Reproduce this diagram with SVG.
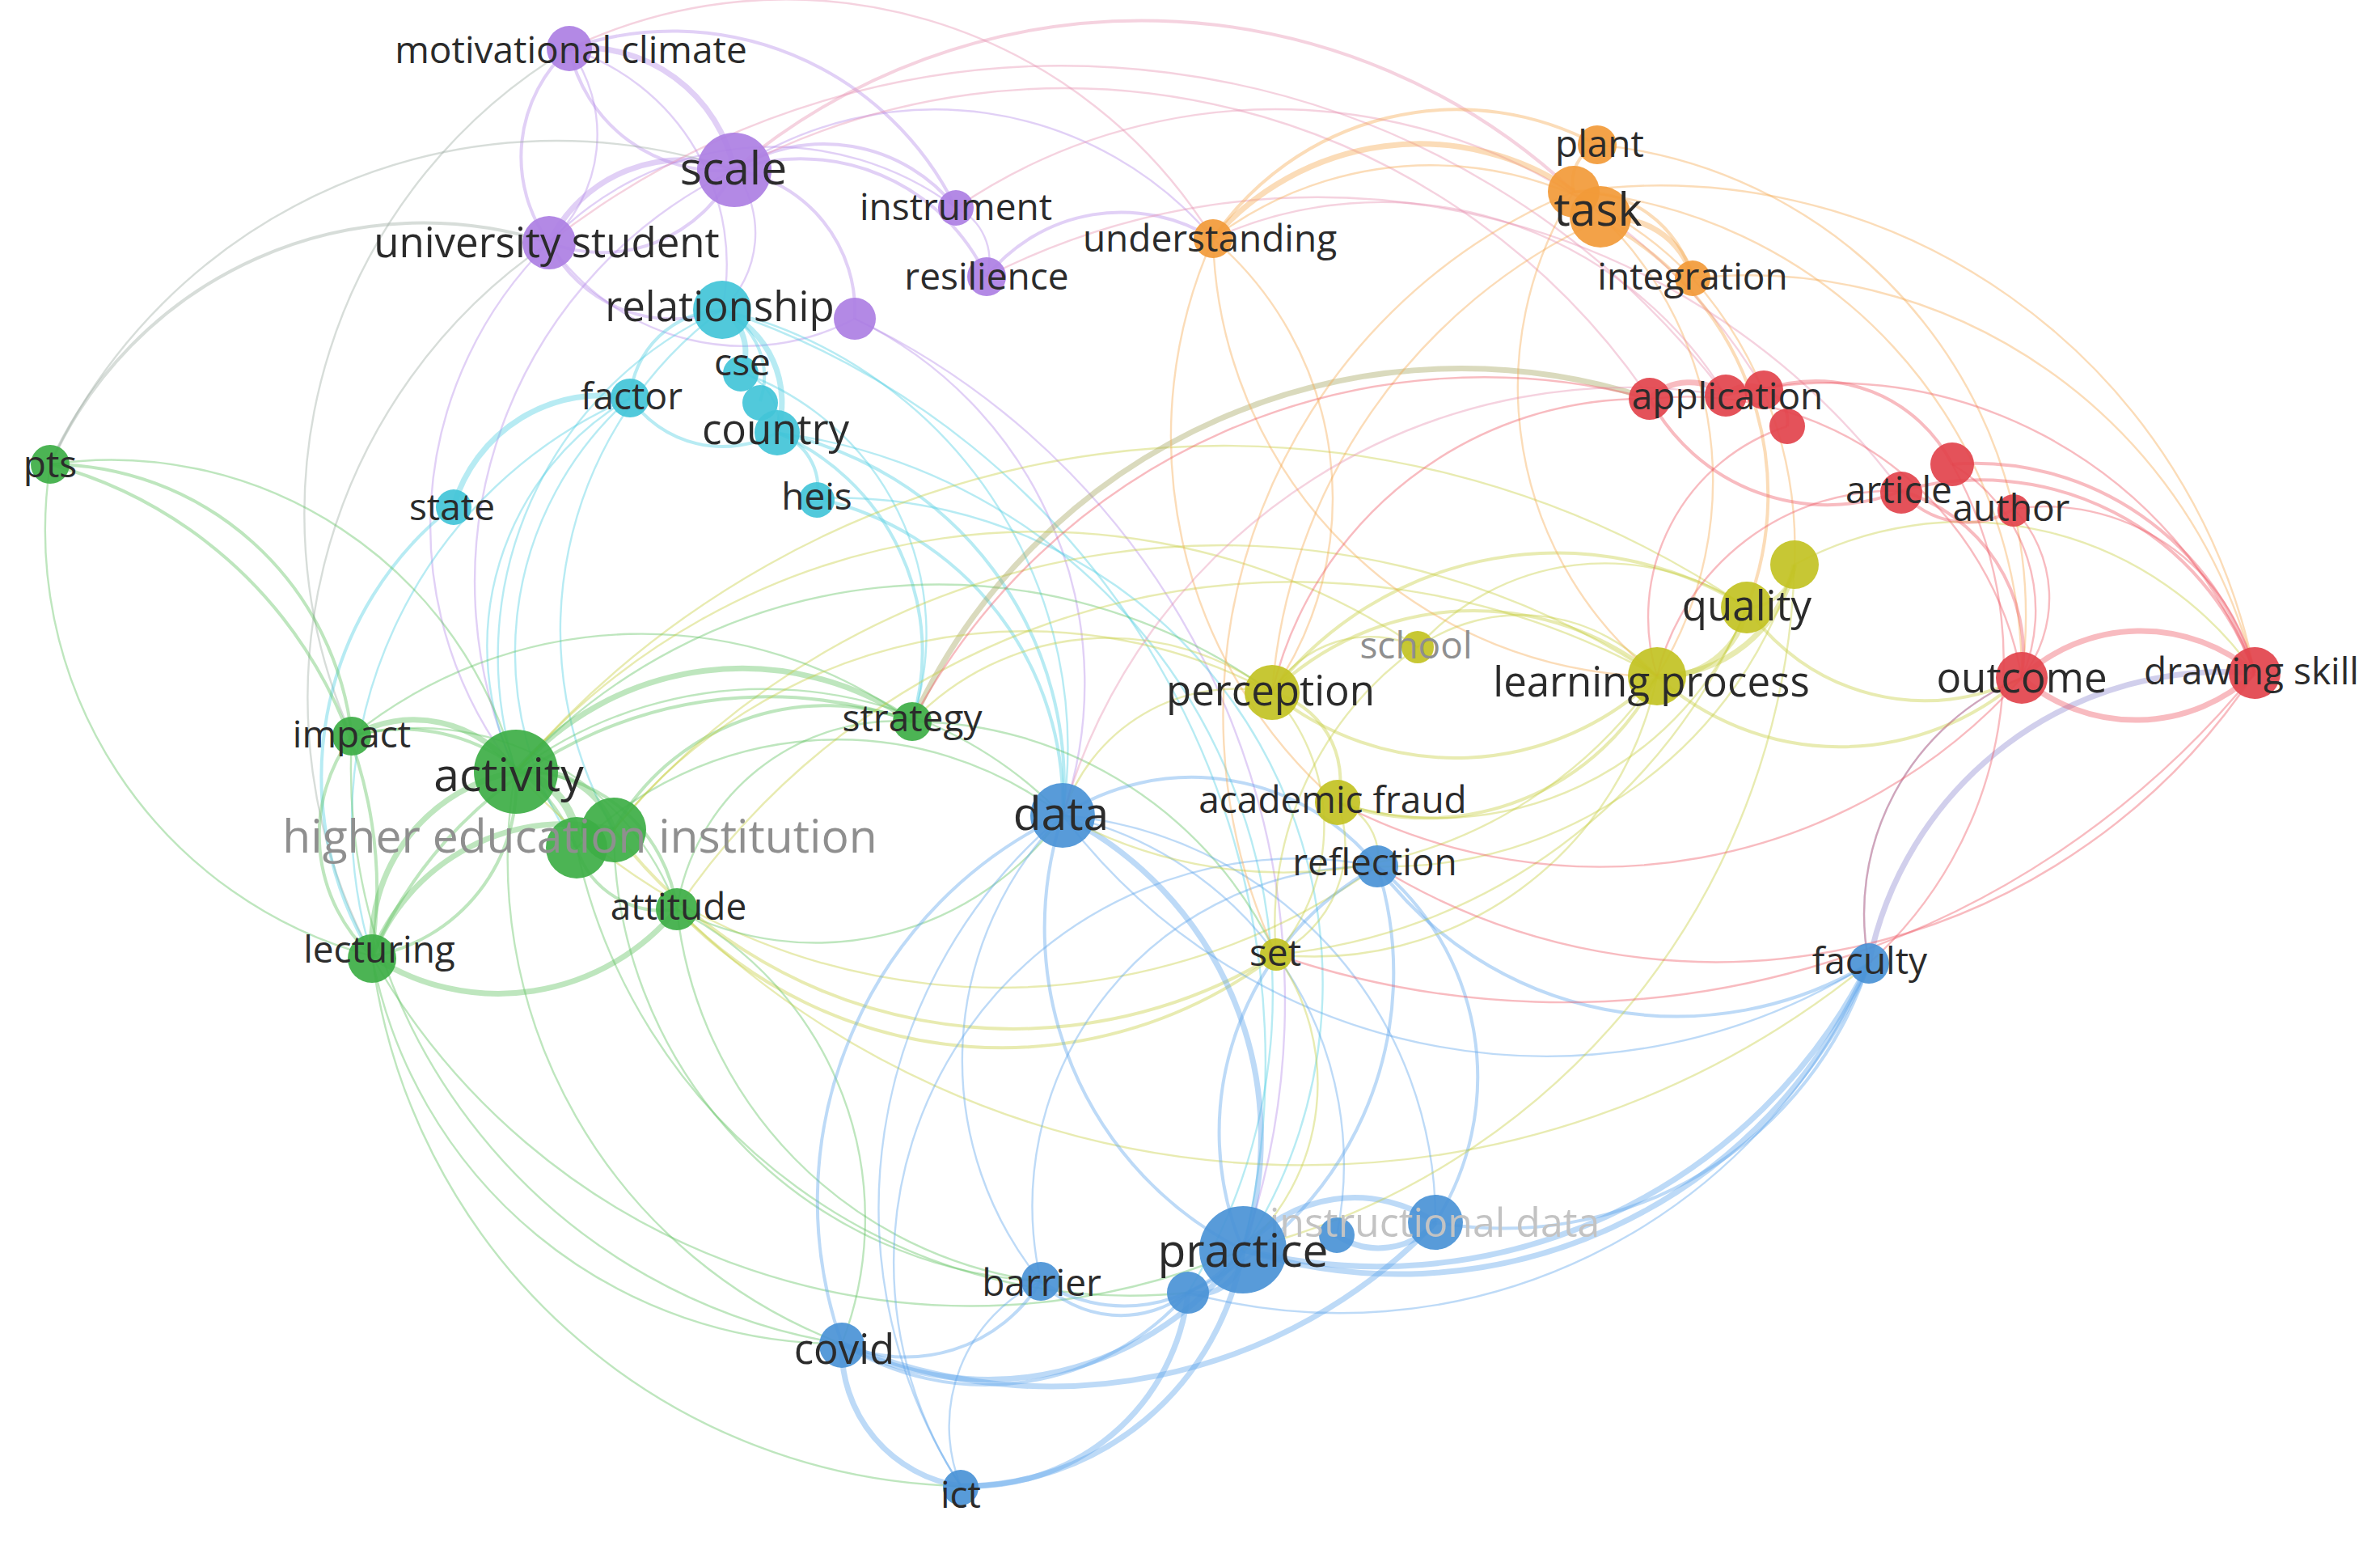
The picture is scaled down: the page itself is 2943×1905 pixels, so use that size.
<svg xmlns="http://www.w3.org/2000/svg" width="2943" height="1905" viewBox="0 0 2943 1905">
<style>
.e{fill:none;stroke-opacity:.4;stroke-width:2.4}
.w2{stroke-width:4}.w3{stroke-width:7}.w4{stroke-width:10}
.ep{stroke:#b48ae8}.ec{stroke:#4ccde0}.eg{stroke:#5cc05c}.eb{stroke:#5aa2ea}.ey{stroke:#c6cc3c}.eo{stroke:#f5a84e}.er{stroke:#ee5662}.ex{stroke:#9aa9a0}.eol{stroke:#a3a35a}.epb{stroke:#8c86d0}.epk{stroke:#e58fb0}
circle{fill-opacity:.92}
.np{fill:#ad7fe3}.nc{fill:#42c4d8}.ng{fill:#3dae45}.nb{fill:#4a93d6}.ny{fill:#c2c223}.no{fill:#f29a38}.nr{fill:#e2434c}
text{font-family:"Open Sans","Noto Sans","DejaVu Sans",sans-serif;fill:#2b2b2b;text-anchor:middle;dominant-baseline:central}
.s{font-size:46px}.m{font-size:51px}.l{font-size:57px}
.hei{font-size:57px;fill:#8f8f8f}.idl{font-size:50px;fill:#c3c3c3}.cv{font-size:51px}
.g1{fill:#8f8f8f}
</style>
<rect width="2943" height="1905" fill="#fff"/>
<g id="edges">
<path class="e ep w3" d="M704 60 A190 190 0 0 1 908 210"/>
<path class="e ep w2" d="M704 60 A190 190 0 0 0 908 210"/>
<path class="e ep w2" d="M704 60 A180 180 0 0 0 679 300"/>
<path class="e ep" d="M704 60 A180 180 0 0 1 679 300"/>
<path class="e ep" d="M704 60 A280 280 0 0 1 893 383"/>
<path class="e ep w2" d="M704 60 A390 390 0 0 1 1182 257"/>
<path class="e ep w3" d="M908 210 A182 182 0 0 0 679 300"/>
<path class="e ep w2" d="M908 210 A182 182 0 0 1 679 300"/>
<path class="e ep w2" d="M908 210 A208 208 0 0 1 1182 257"/>
<path class="e ep w2" d="M908 210 A254 254 0 0 1 1220 342"/>
<path class="e ep w2" d="M908 210 A177 177 0 0 1 1057 394"/>
<path class="e ep" d="M908 210 A130 130 0 0 1 893 383"/>
<path class="e ep w2" d="M679 300 A171 171 0 0 0 893 383"/>
<path class="e ep" d="M679 300 A292 292 0 0 0 1057 394"/>
<path class="e ep" d="M679 300 A380 380 0 0 1 1182 257"/>
<path class="e ex w2" d="M62 574 A506 506 0 0 1 679 300"/>
<path class="e ex" d="M62 574 A690 690 0 0 1 908 210"/>
<path class="e ex" d="M704 60 A670 670 0 0 0 435 910"/>
<path class="e ex" d="M679 300 A680 680 0 0 0 460 1182"/>
<path class="e ep" d="M908 210 A450 450 0 0 1 1500 295"/>
<path class="e epk w2" d="M908 210 A780 780 0 0 1 1946 237"/>
<path class="e epk" d="M704 60 A620 620 0 0 1 1500 295"/>
<path class="e ep" d="M1057 394 A500 500 0 0 1 1314 1008"/>
<path class="e ep" d="M1057 394 A935 935 0 0 1 1537 1545"/>
<path class="e ep w2" d="M1220 342 A214 214 0 0 1 1500 295"/>
<path class="e ep" d="M1182 257 A70 70 0 0 1 1220 342"/>
<path class="e ep" d="M679 300 A490 490 0 0 0 638 954"/>
<path class="e ep" d="M908 210 A565 565 0 0 0 638 954"/>
<path class="e epk" d="M908 210 A875 875 0 0 1 2040 493"/>
<path class="e epk" d="M679 300 A1030 1030 0 0 1 2134 489"/>
<path class="e epk" d="M1182 257 A700 700 0 0 1 2181 482"/>
<path class="e epk" d="M1220 342 A900 900 0 0 1 2351 607"/>
<path class="e ec w3" d="M893 383 A60 60 0 0 1 916 460"/>
<path class="e ec w2" d="M893 383 A92 92 0 0 1 940 496"/>
<path class="e ec w3" d="M893 383 A125 125 0 0 1 961 535"/>
<path class="e ec w2" d="M893 383 A118 118 0 0 0 779 492"/>
<path class="e ec" d="M916 460 A65 65 0 0 1 961 535"/>
<path class="e ec w2" d="M779 492 A140 140 0 0 0 961 535"/>
<path class="e ec w3" d="M561 625 A191 191 0 0 1 779 492"/>
<path class="e ec w2" d="M961 535 A71 71 0 0 1 1010 616"/>
<path class="e ec w2" d="M961 535 A442 442 0 0 1 1314 1008"/>
<path class="e ec" d="M893 383 A556 556 0 0 1 1314 1008"/>
<path class="e ec w2" d="M961 535 A295 295 0 0 1 1128 892"/>
<path class="e ec" d="M893 383 A469 469 0 0 0 638 954"/>
<path class="e ec" d="M779 492 A355 355 0 0 0 638 954"/>
<path class="e ec" d="M779 492 A570 570 0 0 0 460 1182"/>
<path class="e ec w2" d="M1010 616 A387 387 0 0 1 1314 1008"/>
<path class="e ec" d="M893 383 A493 493 0 0 0 759 1026"/>
<path class="e ec w2" d="M561 625 A425 425 0 0 0 460 1182"/>
<path class="e ec" d="M916 460 A343 343 0 0 1 1128 892"/>
<path class="e ec" d="M893 383 A980 980 0 0 1 1537 1545"/>
<path class="e ec" d="M779 492 A420 420 0 0 0 713 1048"/>
<path class="e ec" d="M961 535 A700 700 0 0 1 1469 1598"/>
<path class="e ec" d="M1010 616 A600 600 0 0 1 1537 1545"/>
<path class="e eg w2" d="M62 574 A376 376 0 0 1 435 910"/>
<path class="e eg w2" d="M62 574 A545 545 0 0 1 460 1182"/>
<path class="e eg" d="M62 574 A545 545 0 0 0 460 1182"/>
<path class="e eg" d="M62 574 A518 518 0 0 1 638 954"/>
<path class="e eg w3" d="M435 910 A156 156 0 0 1 638 954"/>
<path class="e eg w2" d="M435 910 A205 205 0 0 0 460 1182"/>
<path class="e eg w2" d="M435 910 A232 232 0 0 1 713 1048"/>
<path class="e eg" d="M435 910 A341 341 0 0 1 837 1124"/>
<path class="e eg w4" d="M638 954 A91 91 0 0 1 713 1048"/>
<path class="e eg w3" d="M638 954 A108 108 0 0 1 759 1026"/>
<path class="e eg w3" d="M638 954 A217 217 0 0 0 460 1182"/>
<path class="e eg w2" d="M638 954 A217 217 0 0 1 460 1182"/>
<path class="e eg w2" d="M638 954 A196 196 0 0 1 837 1124"/>
<path class="e eg w3" d="M638 954 A370 370 0 0 1 1128 892"/>
<path class="e eg w2" d="M759 1026 A300 300 0 0 1 1128 892"/>
<path class="e eg w2" d="M713 1048 A111 111 0 0 0 837 1124"/>
<path class="e eg w3" d="M460 1182 A286 286 0 0 0 837 1124"/>
<path class="e eg w3" d="M460 1182 A255 255 0 0 1 759 1026"/>
<path class="e eg" d="M638 954 A513 513 0 0 1 1314 1008"/>
<path class="e eg" d="M638 954 A705 705 0 0 1 1573 856"/>
<path class="e ey" d="M759 1026 A978 978 0 0 1 2049 836"/>
<path class="e ey w2" d="M837 1124 A557 557 0 0 0 1578 1180"/>
<path class="e eg" d="M837 1124 A430 430 0 0 1 1041 1661"/>
<path class="e eg" d="M460 1182 A588 588 0 0 0 1041 1661"/>
<path class="e eg" d="M460 1182 A850 850 0 0 0 1537 1545"/>
<path class="e ey" d="M638 954 A1150 1150 0 0 1 2160 751"/>
<path class="e eol w3" d="M1128 892 A746 746 0 0 1 2040 493"/>
<path class="e eg" d="M435 910 A571 571 0 0 1 1128 892"/>
<path class="e eg w2" d="M460 1182 A534 534 0 0 1 1128 892"/>
<path class="e eg" d="M837 1124 A275 275 0 0 1 1128 892"/>
<path class="e ey" d="M638 954 A803 803 0 0 0 1703 1071"/>
<path class="e eg" d="M713 1048 A458 458 0 0 1 1314 1008"/>
<path class="e eg" d="M837 1124 A375 375 0 0 0 1314 1008"/>
<path class="e eg" d="M435 910 A720 720 0 0 0 1041 1661"/>
<path class="e eg" d="M460 1182 A750 750 0 0 0 1188 1837"/>
<path class="e ey" d="M759 1026 A651 651 0 0 1 1573 856"/>
<path class="e ey" d="M837 1124 A922 922 0 0 1 2049 836"/>
<path class="e ey" d="M638 954 A848 848 0 0 1 1753 800"/>
<path class="e ey w2" d="M759 1026 A620 620 0 0 0 1578 1180"/>
<path class="e ey" d="M837 1124 A1106 1106 0 0 0 2311 1191"/>
<path class="e eg" d="M713 1048 A700 700 0 0 0 1469 1598"/>
<path class="e eg" d="M759 1026 A560 560 0 0 0 1287 1584"/>
<path class="e eg" d="M837 1124 A520 520 0 0 0 1287 1584"/>
<path class="e eg" d="M637 954 A640 640 0 0 0 1041 1661"/>
<path class="e eg" d="M1128 892 A500 500 0 0 1 1578 1180"/>
<path class="e eb w3" d="M1314 1008 A445 445 0 0 1 1537 1545"/>
<path class="e eb w2" d="M1314 1008 A445 445 0 0 0 1537 1545"/>
<path class="e eb w2" d="M1314 1008 A294 294 0 0 1 1703 1071"/>
<path class="e eb" d="M1314 1008 A441 441 0 0 1 1653 1527"/>
<path class="e eb" d="M1314 1008 A502 502 0 0 1 1775 1511"/>
<path class="e eb w2" d="M1314 1008 A527 527 0 0 0 1041 1661"/>
<path class="e eb" d="M1314 1008 A432 432 0 0 0 1287 1584"/>
<path class="e eb" d="M1314 1008 A632 632 0 0 0 1188 1837"/>
<path class="e eb w2" d="M1703 1071 A374 374 0 0 0 1537 1545"/>
<path class="e eb w2" d="M1703 1071 A335 335 0 0 1 1775 1511"/>
<path class="e eb w2" d="M1703 1071 A463 463 0 0 0 2311 1191"/>
<path class="e eb w3" d="M2311 1191 A632 632 0 0 1 1537 1545"/>
<path class="e eb w3" d="M2311 1191 A680 680 0 0 1 1537 1545"/>
<path class="e eb w2" d="M2311 1191 A475 475 0 0 1 1775 1511"/>
<path class="e eb" d="M2311 1191 A711 711 0 0 1 1469 1598"/>
<path class="e eb w3" d="M1537 1545 A390 390 0 0 1 1041 1661"/>
<path class="e eb w2" d="M1537 1545 A190 190 0 0 1 1287 1584"/>
<path class="e eb w3" d="M1537 1545 A351 351 0 0 1 1188 1837"/>
<path class="e eb w3" d="M1537 1545 A180 180 0 0 1 1775 1511"/>
<path class="e eb w3" d="M1041 1661 A172 172 0 0 0 1188 1837"/>
<path class="e eb w3" d="M1469 1598 A270 270 0 0 1 1188 1837"/>
<path class="e eb w2" d="M1287 1584 A196 196 0 0 1 1041 1661"/>
<path class="e eb" d="M1287 1584 A198 198 0 0 0 1188 1837"/>
<path class="e eb w3" d="M1775 1511 A93 93 0 0 1 1653 1527"/>
<path class="e eb w3" d="M1469 1598 A55 55 0 0 0 1537 1545"/>
<path class="e eb w3" d="M1041 1661 A658 658 0 0 0 1775 1511"/>
<path class="e eb" d="M1314 1008 A750 750 0 0 0 2311 1191"/>
<path class="e eb w2" d="M1703 1071 A435 435 0 0 1 1469 1598"/>
<path class="e epb w3" d="M2311 1191 A448 448 0 0 1 2788 832"/>
<path class="e eb" d="M2311 1191 A316 316 0 0 1 2500 838"/>
<path class="e eb w2" d="M1041 1661 A333 333 0 0 0 1469 1598"/>
<path class="e eb w2" d="M1287 1584 A137 137 0 0 0 1469 1598"/>
<path class="e eb" d="M1703 1071 A500 500 0 0 0 1188 1837"/>
<path class="e eb" d="M1703 1071 A420 420 0 0 0 1287 1584"/>
<path class="e ey w2" d="M1573 856 A112 112 0 0 1 1654 992"/>
<path class="e ey" d="M1573 856 A141 141 0 0 1 1753 800"/>
<path class="e ey w2" d="M1573 856 A358 358 0 0 1 2049 836"/>
<path class="e ey w2" d="M1573 856 A358 358 0 0 0 2049 836"/>
<path class="e ey w2" d="M1573 856 A445 445 0 0 1 2160 751"/>
<path class="e ey" d="M1573 856 A243 243 0 0 1 1578 1180"/>
<path class="e ey w2" d="M1654 992 A320 320 0 0 0 2049 836"/>
<path class="e ey" d="M1654 992 A410 410 0 0 0 2160 751"/>
<path class="e ey" d="M1753 800 A225 225 0 0 1 2049 836"/>
<path class="e ey w3" d="M2049 836 A105 105 0 0 0 2160 751"/>
<path class="e ey w3" d="M2049 836 A174 174 0 0 0 2219 698"/>
<path class="e ey w2" d="M2160 751 A60 60 0 0 0 2219 698"/>
<path class="e ey" d="M2049 836 A433 433 0 0 1 1578 1180"/>
<path class="e ey w2" d="M2049 836 A338 338 0 0 0 2500 838"/>
<path class="e ey w2" d="M2160 751 A268 268 0 0 0 2500 838"/>
<path class="e ey" d="M2219 698 A440 440 0 0 1 2788 832"/>
<path class="e ey" d="M1573 856 A225 225 0 0 0 1314 1008"/>
<path class="e ey" d="M1654 992 A70 70 0 0 1 1703 1071"/>
<path class="e ey" d="M1578 1180 A274 274 0 0 1 1537 1545"/>
<path class="e ey" d="M1573 856 A337 337 0 0 0 1128 892"/>
<path class="e ey" d="M1654 992 A150 150 0 0 1 1578 1180"/>
<path class="e ey" d="M2219 698 A525 525 0 0 1 1703 1071"/>
<path class="e ey" d="M1753 800 A310 310 0 0 1 2160 751"/>
<path class="e ey" d="M2049 836 A562 562 0 0 1 1314 1008"/>
<path class="e ey" d="M2160 751 A700 700 0 0 1 1578 1180"/>
<path class="e ey" d="M2219 698 A900 900 0 0 1 1537 1545"/>
<path class="e ey" d="M1753 800 A420 420 0 0 0 1578 1180"/>
<path class="e eo w3" d="M1500 295 A337 337 0 0 1 1946 237"/>
<path class="e eo w2" d="M1500 295 A365 365 0 0 1 1975 179"/>
<path class="e eo w2" d="M1946 237 A50 50 0 0 1 1975 179"/>
<path class="e eo w2" d="M1946 237 A144 144 0 0 1 2093 344"/>
<path class="e eo w3" d="M1979 272 A99 99 0 0 1 2093 344"/>
<path class="e eo" d="M1500 295 A445 445 0 0 1 2093 344"/>
<path class="e eo" d="M1946 237 A457 457 0 0 1 2049 836"/>
<path class="e eo" d="M1946 237 A457 457 0 0 0 2049 836"/>
<path class="e eo" d="M1946 237 A600 600 0 0 1 2500 838"/>
<path class="e eo w2" d="M1979 272 A382 382 0 0 1 2160 751"/>
<path class="e eo" d="M1500 295 A422 422 0 0 1 1573 856"/>
<path class="e eo" d="M1500 295 A555 555 0 0 0 2049 836"/>
<path class="e eo" d="M1946 237 A750 750 0 0 1 2788 832"/>
<path class="e eo" d="M2093 344 A645 645 0 0 1 2788 832"/>
<path class="e eo" d="M1975 179 A585 585 0 0 1 2500 838"/>
<path class="e eo" d="M1500 295 A600 600 0 0 0 1654 992"/>
<path class="e eo" d="M1946 237 A700 700 0 0 0 1578 1180"/>
<path class="e eo" d="M2093 344 A500 500 0 0 1 2219 698"/>
<path class="e eo" d="M1979 272 A700 700 0 0 0 1573 856"/>
<path class="e er w3" d="M2040 493 A70 70 0 0 1 2134 489"/>
<path class="e er w3" d="M2134 489 A40 40 0 0 1 2181 482"/>
<path class="e er w2" d="M2181 482 A40 40 0 0 1 2210 527"/>
<path class="e er w2" d="M2040 493 A250 250 0 0 0 2351 607"/>
<path class="e er w2" d="M2181 482 A190 190 0 0 1 2414 574"/>
<path class="e er w2" d="M2351 607 A106 106 0 0 0 2490 629"/>
<path class="e er w2" d="M2414 574 A360 360 0 0 1 2788 832"/>
<path class="e er w2" d="M2351 607 A360 360 0 0 1 2788 832"/>
<path class="e er" d="M2490 629 A266 266 0 0 1 2788 832"/>
<path class="e er w3" d="M2500 838 A216 216 0 0 1 2788 832"/>
<path class="e er w3" d="M2500 838 A216 216 0 0 0 2788 832"/>
<path class="e er" d="M2040 493 A420 420 0 0 1 2500 838"/>
<path class="e er w2" d="M2351 607 A210 210 0 0 1 2500 838"/>
<path class="e er" d="M2134 489 A560 560 0 0 1 2788 832"/>
<path class="e er" d="M2500 838 A316 316 0 0 0 2311 1191"/>
<path class="e er" d="M2414 574 A210 210 0 0 1 2500 838"/>
<path class="e er" d="M2210 527 A248 248 0 0 0 2049 836"/>
<path class="e er" d="M2351 607 A300 300 0 0 0 2049 836"/>
<path class="e er" d="M2040 493 A472 472 0 0 0 1573 856"/>
<path class="e epk" d="M2134 489 A727 727 0 0 0 1314 1008"/>
<path class="e er" d="M2490 629 A160 160 0 0 1 2500 838"/>
<path class="e epk" d="M1500 295 A500 500 0 0 1 2134 489"/>
<path class="e er" d="M2788 832 A800 800 0 0 1 1703 1071"/>
<path class="e er" d="M2500 838 A700 700 0 0 1 1654 992"/>
<path class="e er" d="M2788 832 A1100 1100 0 0 1 1578 1180"/>
<path class="e er" d="M2414 574 A500 500 0 0 1 2311 1191"/>
<path class="e er" d="M2040 493 A800 800 0 0 0 1128 892"/>
</g>
<g id="n-higher-education-institution"><circle class="ng" cx="713" cy="1048" r="38"/><circle class="ng" cx="759" cy="1026" r="40"/><text class="hei" x="717" y="1032">higher education institution</text></g>
<g id="n-activity"><circle class="ng" cx="638" cy="954" r="52"/><text class="l" x="629" y="956">activity</text></g>
<g id="n-impact"><circle class="ng" cx="435" cy="910" r="24"/><text class="s" x="435" y="906">impact</text></g>
<g id="n-attitude"><circle class="ng" cx="837" cy="1124" r="26"/><text class="s" x="839" y="1119">attitude</text></g>
<g id="n-lecturing"><circle class="ng" cx="460" cy="1185" r="30"/><text class="s" x="469" y="1172">lecturing</text></g>
<g id="n-strategy"><circle class="ng" cx="1128" cy="892" r="24"/><text class="s" x="1128" y="886">strategy</text></g>
<g id="n-pts"><circle class="ng" cx="62" cy="574" r="24"/><text class="s" x="62" y="572">pts</text></g>
<g id="n-motivational-climate"><circle class="np" cx="704" cy="60" r="28"/><text class="s" x="706" y="60">motivational climate</text></g>
<g id="n-scale"><circle class="np" cx="908" cy="210" r="46"/><text class="l" x="907" y="206">scale</text></g>
<g id="n-university-student"><circle class="np" cx="679" cy="300" r="33"/><text class="m" x="676" y="298">university student</text></g>
<g id="n-instrument"><circle class="np" cx="1182" cy="257" r="22"/><text class="s" x="1182" y="254">instrument</text></g>
<g id="n-resilience"><circle class="np" cx="1220" cy="342" r="24"/><text class="s" x="1220" y="340">resilience</text></g>
<g id="n-purple-6"><circle class="np" cx="1057" cy="394" r="26"/></g>
<g id="n-relationship"><circle class="nc" cx="893" cy="383" r="36"/><text class="m" x="890" y="377">relationship</text></g>
<g id="n-cse"><circle class="nc" cx="916" cy="462" r="22"/><circle class="nc" cx="940" cy="498" r="22"/><text class="s" x="918" y="446">cse</text></g>
<g id="n-country"><circle class="nc" cx="961" cy="535" r="28"/><text class="m" x="959" y="529">country</text></g>
<g id="n-factor"><circle class="nc" cx="779" cy="492" r="24"/><text class="s" x="781" y="488">factor</text></g>
<g id="n-state"><circle class="nc" cx="561" cy="627" r="22"/><text class="s" x="559" y="625">state</text></g>
<g id="n-heis"><circle class="nc" cx="1010" cy="618" r="22"/><text class="s" x="1010" y="612">heis</text></g>
<g id="n-data"><circle class="nb" cx="1314" cy="1008" r="40"/><text class="l" x="1312" y="1004">data</text></g>
<g id="n-reflection"><circle class="nb" cx="1703" cy="1071" r="26"/><text class="s" x="1700" y="1064">reflection</text></g>
<g id="n-faculty"><circle class="nb" cx="2311" cy="1191" r="25"/><text class="s" x="2312" y="1186">faculty</text></g>
<g id="n-instructional-data"><circle class="nb" cx="1653" cy="1527" r="22"/><circle class="nb" cx="1775" cy="1511" r="34"/><text class="idl" x="1774" y="1510">instructional data</text></g>
<g id="n-practice"><circle class="nb" cx="1537" cy="1545" r="54"/><circle class="nb" cx="1469" cy="1598" r="26"/><text class="l" x="1537" y="1544">practice</text></g>
<g id="n-barrier"><circle class="nb" cx="1287" cy="1584" r="24"/><text class="s" x="1288" y="1584">barrier</text></g>
<g id="n-covid"><circle class="nb" cx="1041" cy="1663" r="28"/><text class="cv" x="1044" y="1666">covid</text></g>
<g id="n-ict"><circle class="nb" cx="1188" cy="1839" r="22"/><text class="s" x="1188" y="1846">ict</text></g>
<g id="n-perception"><circle class="ny" cx="1573" cy="856" r="34"/><text class="m" x="1571" y="852">perception</text></g>
<g id="n-school"><circle class="ny" cx="1753" cy="800" r="20"/><text class="s g1" x="1751" y="796">school</text></g>
<g id="n-academic-fraud"><circle class="ny" cx="1654" cy="992" r="28"/><text class="s" x="1648" y="987">academic fraud</text></g>
<g id="n-set"><circle class="ny" cx="1578" cy="1180" r="20"/><text class="s" x="1577" y="1176">set</text></g>
<g id="n-learning-process"><circle class="ny" cx="2049" cy="836" r="36"/><text class="m" x="2042" y="841">learning process</text></g>
<g id="n-quality"><circle class="ny" cx="2219" cy="698" r="30"/><circle class="ny" cx="2160" cy="751" r="32"/><text class="m" x="2160" y="747">quality</text></g>
<g id="n-understanding"><circle class="no" cx="1500" cy="295" r="24"/><text class="s" x="1496" y="293">understanding</text></g>
<g id="n-plant"><circle class="no" cx="1975" cy="179" r="24"/><text class="s" x="1978" y="176">plant</text></g>
<g id="n-task"><circle class="no" cx="1946" cy="237" r="32"/><circle class="no" cx="1979" cy="268" r="38"/><text class="l" x="1976" y="257">task</text></g>
<g id="n-integration"><circle class="no" cx="2093" cy="344" r="22"/><text class="s" x="2093" y="340">integration</text></g>
<g id="n-application"><circle class="nr" cx="2040" cy="493" r="26"/><circle class="nr" cx="2134" cy="489" r="26"/><circle class="nr" cx="2181" cy="482" r="24"/><circle class="nr" cx="2210" cy="527" r="22"/><text class="s" x="2136" y="488">application</text></g>
<g id="n-red-5"><circle class="nr" cx="2414" cy="574" r="27"/></g>
<g id="n-article"><circle class="nr" cx="2351" cy="609" r="26"/><text class="s" x="2348" y="604">article</text></g>
<g id="n-author"><circle class="nr" cx="2490" cy="631" r="20"/><text class="s" x="2487" y="626">author</text></g>
<g id="n-outcome"><circle class="nr" cx="2500" cy="838" r="32"/><text class="m" x="2500" y="836">outcome</text></g>
<g id="n-drawing-skill"><circle class="nr" cx="2788" cy="832" r="32"/><text class="s" x="2784" y="828">drawing skill</text></g>
</svg>
